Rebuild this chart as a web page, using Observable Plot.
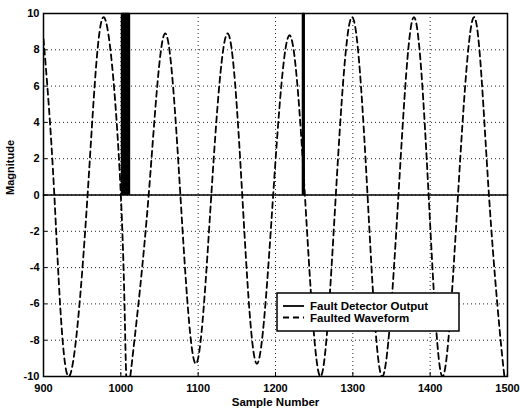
<!DOCTYPE html>
<html><head><meta charset="utf-8">
<script src="https://cdn.jsdelivr.net/npm/d3@7"></script>
<script src="https://cdn.jsdelivr.net/npm/@observablehq/plot@0.6"></script>
<style>
html,body{margin:0;padding:0;background:#fff;}
#chart{position:relative;width:520px;height:410px;}
</style></head><body><div id="chart"></div>
<script>
// Faulted waveform: read at extrema and zero crossings
const waveX = [900, 914, 932, 957, 978, 1000, 1007, 1016, 1036, 1057, 1077, 1097, 1117, 1138, 1157, 1176, 1197, 1218, 1238, 1258, 1278, 1299, 1319, 1338, 1359, 1379, 1398, 1416, 1436, 1457, 1476, 1496, 1500];
const waveY = [8.6, 0, -10, 0, 9.8, 0, -10, -8.6, 0, 8.9, 0, -9.3, 0, 8.9, 0, -9.3, 0, 8.8, 0, -10, 0, 9.8, 0, -10, 0, 9.8, 0, -10, 0, 9.8, 0, -10, -9.9];
// Fault detector output
const detX = [900, 1000, 1001, 1002, 1003, 1004, 1005, 1006, 1007, 1008, 1009, 1010, 1011, 1235, 1237, 1500];
const detY = [0, 0, 10, 0, 10, 0, 10, 0, 10, 0, 10, 10, 0, 10, 0, 0];
const xTicks = [900, 1000, 1100, 1200, 1300, 1400, 1500];
const yTicks = [-10, -8, -6, -4, -2, 0, 2, 4, 6, 8, 10];
const xLabel = "Sample Number";
const yLabel = "Magnitude";
const legendLabels = ["Fault Detector Output", "Faulted Waveform"];

const wave = waveX.map((x, i) => ({x, y: waveY[i]}));
const det = detX.map((x, i) => ({x, y: detY[i]}));
const font = "'Liberation Sans', Arial, Helvetica, sans-serif";

const plot = Plot.plot({
  width: 520, height: 410,
  marginLeft: 43, marginRight: 13, marginTop: 13, marginBottom: 34,
  style: {fontFamily: font, fontSize: "11px", fontWeight: "bold", background: "#fff", color: "#000", overflow: "visible"},
  x: {domain: [900, 1500]},
  y: {domain: [-10, 10]},
  marks: [
    Plot.gridX(xTicks, {stroke: "#000", strokeOpacity: 0.85, strokeWidth: 1, strokeDasharray: "1,3"}),
    Plot.gridY(yTicks, {stroke: "#000", strokeOpacity: 0.85, strokeWidth: 1, strokeDasharray: "1,3"}),
    Plot.line(det, {x: "x", y: "y", curve: "step-after", stroke: "#000", strokeWidth: 1.7}),
    Plot.line(wave, {x: "x", y: "y", curve: "natural", stroke: "#000", strokeWidth: 1.8, strokeDasharray: "6,4", clip: true}),
    Plot.axisX(xTicks, {tickSize: -4, tickPadding: 12, label: null, tickFormat: d => String(d), fontSize: 11, fontWeight: "bold"}),
    Plot.axisY(yTicks, {tickSize: -4, tickPadding: 8, label: null, tickFormat: d => String(d), fontSize: 11, fontWeight: "bold"}),
    Plot.frame({stroke: "#000", strokeWidth: 1.5}),
    Plot.text([xLabel], {frameAnchor: "bottom", dy: 26, lineAnchor: "middle", fontSize: 11.5, fontWeight: "bold"}),
    Plot.text([yLabel], {frameAnchor: "left", dx: -33, rotate: -90, lineAnchor: "middle", fontSize: 11, fontWeight: "bold"})
  ]
});
document.getElementById("chart").appendChild(plot);

// Legend box drawn inside the SVG
const svg = d3.select(plot);
const lg = svg.append("g").attr("transform", "translate(277,293)");
lg.append("rect").attr("width", 182).attr("height", 38).attr("fill", "#fff").attr("stroke", "#000").attr("stroke-width", 1.5);
const styles = [null, "6,4"];
legendLabels.forEach((t, i) => {
  const yy = 13 + i * 11.5;
  lg.append("line").attr("x1", 6).attr("x2", 27).attr("y1", yy).attr("y2", yy)
    .attr("stroke", "#000").attr("stroke-width", 1.8).attr("stroke-dasharray", styles[i]);
  lg.append("text").attr("x", 33).attr("y", yy).attr("dy", "0.35em")
    .attr("text-anchor", "start")
    .attr("font-family", font).attr("font-size", 11.5).attr("font-weight", "bold").text(t);
});
</script></body></html>
